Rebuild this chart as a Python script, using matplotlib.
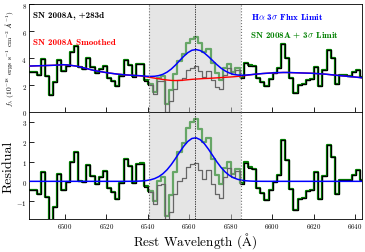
import numpy as np
import matplotlib
matplotlib.use('Agg')
import matplotlib.pyplot as plt

plt.rcParams['font.family'] = 'serif'
plt.rcParams['font.serif'] = ['cmr10']
plt.rcParams['mathtext.fontset'] = 'cm'
plt.rcParams['axes.formatter.use_mathtext'] = True

# Spectrum binned at 2 A, first bin centre below
wave_start = 6483.3
bin_width = 2.0

# Observed flux (10^-18 erg/s/cm^2/A), one value per bin
flux = [2.97, 2.98, 2.78, 3.94, 2.67, 1.27, 2.20, 3.86, 3.07, 3.45,
        4.43, 4.89, 3.36, 3.23, 4.02, 3.37, 2.90, 3.20, 3.45, 2.55,
        2.31, 1.92, 2.69, 3.88, 3.49, 2.64, 3.55, 3.57, 2.34, 2.02,
        1.37, 2.27, 2.27, 0.03, 0.80, 1.69, 2.35, 2.52, 3.10, 3.28,
        3.40, 3.02, 2.59, 3.05, 2.37, 1.89, 1.71, 2.78, 3.25, 2.82,
        3.15, 2.55, 3.65, 3.45, 3.40, 2.50, 2.25, 1.95, 2.45, 2.90,
        3.25, 5.05, 4.00, 2.55, 1.45, 2.00, 2.05, 2.40, 2.45, 3.35,
        1.95, 3.10, 4.60, 4.00, 2.10, 2.75, 2.75, 2.70, 2.95, 3.15,
        2.60]

# Smoothed continuum, same bins
smooth = [3.42, 3.43, 3.44, 3.45, 3.46, 3.47, 3.48, 3.50, 3.52, 3.50,
          3.46, 3.42, 3.36, 3.28, 3.20, 3.12, 3.05, 3.00, 2.95, 2.90,
          2.86, 2.82, 2.79, 2.76, 2.74, 2.72, 2.70, 2.67, 2.62, 2.57,
          2.52, 2.47, 2.42, 2.38, 2.35, 2.34, 2.35, 2.37, 2.40, 2.43,
          2.45, 2.47, 2.49, 2.50, 2.52, 2.54, 2.56, 2.58, 2.60, 2.62,
          2.65, 2.68, 2.72, 2.76, 2.80, 2.83, 2.86, 2.88, 2.90, 2.92,
          2.93, 2.94, 2.94, 2.93, 2.92, 2.91, 2.90, 2.89, 2.88, 2.86,
          2.84, 2.82, 2.79, 2.76, 2.73, 2.70, 2.67, 2.64, 2.61, 2.58,
          2.55]

# H-alpha 3 sigma limit (gaussian)
ha_center = 6562.8
ha_amp = 2.2
ha_sigma = 8.3

region = (6540.5, 6585.0)
xticks = [6500, 6520, 6540, 6560, 6580, 6600, 6620, 6640]


def main():
    wave = wave_start + bin_width * np.arange(len(flux))
    f = np.array(flux)
    s = np.array(smooth)
    gauss = ha_amp * np.exp(-0.5 * ((wave - ha_center) / ha_sigma) ** 2)
    resid = f - s

    fig = plt.figure(figsize=(3.65, 2.53), dpi=100)
    ax1 = fig.add_axes([0.079, 0.5534, 0.913, 0.4249])
    ax2 = fig.add_axes([0.079, 0.1305, 0.913, 0.4229])

    for ax, black, green, blue in [(ax1, f, f + gauss, s + gauss),
                                   (ax2, resid, resid + gauss, gauss)]:
        ax.step(wave, green, where='mid', color='green', lw=1.6, zorder=1.5)
        ax.step(wave, black, where='mid', color='black', lw=0.9, zorder=2)
        ax.axvspan(region[0], region[1], color='0.8', alpha=0.5, lw=0,
                   zorder=2.5)
        if ax is ax1:
            ax.plot(wave, s, color='red', lw=1.0, zorder=3)
        ax.plot(wave, blue, color='blue', lw=1.1, zorder=3.5)
        for xv in region:
            ax.axvline(xv, color='0.45', ls=':', lw=0.8, zorder=4)
        ax.axvline(ha_center, color='black', ls='--', lw=0.5,
                   dashes=(2, 1.5), zorder=4)
        ax.set_xlim(6482.6, 6643.4)
        ax.set_xticks(xticks)
        ax.tick_params(direction='in', length=3.5, width=0.6, labelsize=5,
                       pad=1.5)
        for sp in ax.spines.values():
            sp.set_linewidth(0.6)

    ax1.set_ylim(0, 8)
    ax1.set_yticks([0, 2, 4, 6, 8])
    ax1.tick_params(labelbottom=False)
    ax2.set_ylim(-1.9, 3.5)
    ax2.set_yticks([-1, 0, 1, 2, 3])

    ax1.set_ylabel(r'$f_\lambda$ ($10^{-18}$ ergs s$^{-1}$ cm$^{-2}$ $\AA^{-1}$)',
                   fontsize=5.3)
    ax1.yaxis.set_label_coords(-0.04, 0.5)
    ax2.set_ylabel('Residual', fontsize=10)
    ax2.yaxis.set_label_coords(-0.044, 0.5)
    ax2.set_xlabel(r'Rest Wavelength ($\mathrm{\AA}$)', fontsize=9.5)
    ax2.xaxis.set_label_coords(0.5, -0.105)

    kw = dict(transform=ax1.transAxes, fontsize=6.5, family='cmb10',
              va='center', zorder=5)
    ax1.text(0.012, 0.905, 'SN 2008A, +283d', color='black', **kw)
    ax1.text(0.012, 0.655, 'SN 2008A Smoothed', color='red', **kw)
    ax1.text(0.668, 0.89, r'H$\alpha$ 3$\sigma$ Flux Limit', color='blue', **kw)
    ax1.text(0.665, 0.725, r'SN 2008A + 3$\sigma$ Limit', color='green', **kw)

    fig.savefig('out.png', dpi=100)


if __name__ == "__main__":
    main()
